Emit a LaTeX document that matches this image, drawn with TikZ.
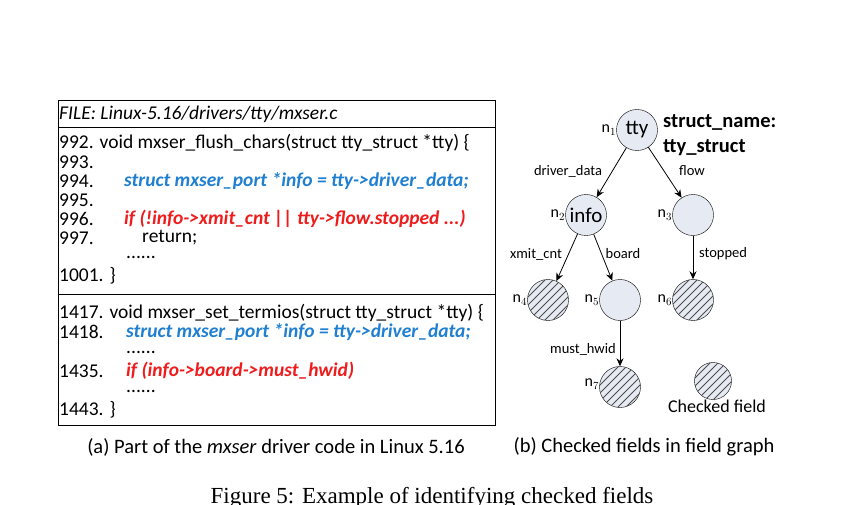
\documentclass[tikz,border=0pt]{standalone}
\usepackage{fontspec}
\setmainfont{Carlito}
\newfontfamily\timesf{Liberation Serif}
\usetikzlibrary{patterns,arrows.meta}
\definecolor{nodefill}{HTML}{E6EAF2}
\definecolor{codeblue}{HTML}{1F7FD0}
\definecolor{codered}{HTML}{EE1C1C}
\pgfdeclarepatternformonly{widene}{\pgfqpoint{-1pt}{-1pt}}{\pgfqpoint{9pt}{9pt}}{\pgfqpoint{8pt}{8pt}}{%
  \pgfsetlinewidth{0.9pt}\pgfpathmoveto{\pgfqpoint{0pt}{0pt}}\pgfpathlineto{\pgfqpoint{8.1pt}{8.1pt}}\pgfusepath{stroke}}
\begin{document}
\begin{tikzpicture}[x=1pt,y=-1pt,
  code/.style={anchor=west,inner sep=0pt,font=\fontsize{19.5}{19.5}\selectfont},
  blue/.style={code,text=codeblue,font=\fontsize{19.5}{19.5}\selectfont\bfseries\itshape},
  red/.style={code,text=codered,font=\fontsize{19.5}{19.5}\selectfont\bfseries\itshape},
  fld/.style={circle,draw=black,fill=nodefill,minimum size=41pt,inner sep=0pt,font=\fontsize{21}{21}\selectfont},
  chk/.style={fld,postaction={pattern=widene,pattern color=black!70}},
  nl/.style={font=\fontsize{16}{16}\selectfont,inner sep=0pt},
  el/.style={font=\fontsize{14.5}{14.5}\selectfont,inner sep=1pt},
  arr/.style={-{Stealth[length=8pt,width=7pt]},thick}]
\useasboundingbox (0,0) rectangle (857,505);
\clip (0,0) rectangle (857,505);
% code box
\draw[thick] (58,100) rectangle (495,425);
\draw[thick] (58,127) -- (495,127);
\draw[thick] (58,294) -- (495,294);
\node[code,font=\fontsize{19.5}{19.5}\selectfont\itshape] (file) at (59,114) {FILE: Linux-5.16/drivers/tty/mxser.c};
\node[code] (l992) at (59,143) {992. void mxser\_flush\_chars(struct tty\_struct *tty) \{};
\node[code] (l993) at (59,162) {993.};
\node[code] (l994) at (59,181) {994.};
\node[blue] (c994) at (124,181) {struct mxser\_port *info = tty->driver\_data;};
\node[code] (l995) at (59,200) {995.};
\node[code] (l996) at (59,219) {996.};
\node[red] (c996) at (124,219) {if (!info->xmit\_cnt || tty->flow.stopped ...)};
\node[code] (l997) at (59,238) {997.};
\node[code] (c997) at (142,238) {return;};
\node[code] (d1) at (126,257) {......};
\node[code] (l1001) at (59,276) {1001. \}};
\node[code] (l1417) at (59,313) {1417. void mxser\_set\_termios(struct tty\_struct *tty) \{};
\node[code] (l1418) at (59,332) {1418.};
\node[blue] (c1418) at (126,332) {struct mxser\_port *info = tty->driver\_data;};
\node[code] (d2) at (126,352) {......};
\node[code] (l1435) at (59,371) {1435.};
\node[red] (c1435) at (126,371) {if (info->board->must\_hwid)};
\node[code] (d3) at (126,391) {......};
\node[code] (l1443) at (59,410) {1443. \}};
\node[font=\fontsize{20.5}{20.5}\selectfont] (capa) at (276,447) {(a) Part of the \textit{mxser} driver code in Linux 5.16};
% graph
\node[fld] (n1) at (637,130) {tty};
\node[fld] (n2) at (586,215) {info};
\node[fld] (n3) at (693,215) {};
\node[chk] (n4) at (548,300) {};
\node[fld] (n5) at (620,300) {};
\node[chk] (n6) at (693,300) {};
\node[chk] (n7) at (620,387) {};
\node[chk,minimum size=37pt] (leg) at (713,381) {};
\node[font=\fontsize{18}{18}\selectfont,inner sep=0pt] (legt) at (717,406) {Checked field};
\node[nl,anchor=east] (t1) at (n1.west) {n$_1$};
\node[nl,anchor=east] (t2) at (n2.west) {n$_2$};
\node[nl,anchor=east] (t3) at (n3.west) {n$_3$};
\node[nl,anchor=east] (t4) at (n4.west) {n$_4$};
\node[nl,anchor=east] (t5) at (n5.west) {n$_5$};
\node[nl,anchor=east] (t6) at (n6.west) {n$_6$};
\node[nl,anchor=east] (t7) at ([yshift=3pt]n7.west) {n$_7$};
\node[anchor=west,inner sep=0pt,font=\fontsize{20.5}{20.5}\selectfont\bfseries] (sn1) at (663,122) {struct\_name:};
\node[anchor=west,inner sep=0pt,font=\fontsize{20.5}{20.5}\selectfont\bfseries] (sn2) at (663,148) {tty\_struct};
\draw[arr] (n1) -- (n2);
\draw[arr] (n1) -- (n3);
\draw[arr] (n2) -- (n4);
\draw[arr] (n2) -- (n5);
\draw[arr] (n3) -- (n6);
\draw[arr] (n5) -- (n7);
\node[el] (e12) at (568,171) {driver\_data};
\node[el] (e13) at (692,171) {flow};
\node[el] (e24) at (536,254) {xmit\_cnt};
\node[el] (e25) at (623,254) {board};
\node[el] (e36) at (723,254) {stopped};
\node[el] (e57) at (583,349) {must\_hwid};
\node[font=\fontsize{20.5}{20.5}\selectfont] (capb) at (644,447) {(b) Checked fields in field graph};
\node[font=\fontsize{23}{23}\selectfont\timesf] (fig) at (432,498) {Figure 5: Example of identifying checked fields};
\end{tikzpicture}
\end{document}
